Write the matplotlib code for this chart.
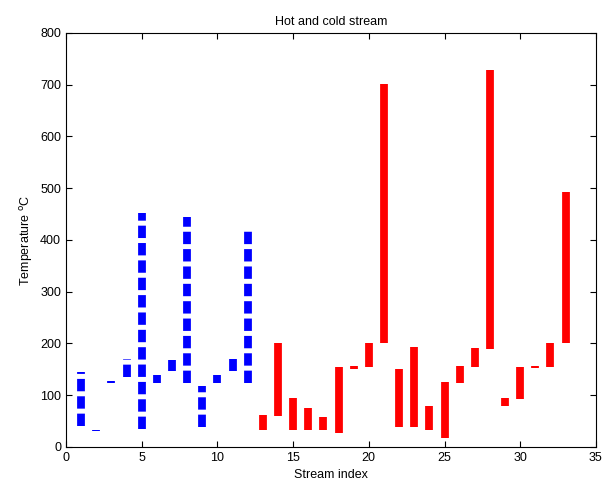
"""Hot and cold stream temperature ranges."""

import matplotlib

matplotlib.use("Agg")
from matplotlib import pyplot as plt

# cold streams 1..12 (supply/target range, degC)
cold_index = [1, 2, 3, 4, 5, 6, 7, 8, 9, 10, 11, 12]
cold_low = [40, 30, 123, 135, 35, 123, 147, 123, 38, 123, 147, 123]
cold_high = [145, 32, 128, 170, 453, 140, 168, 444, 117, 140, 170, 424]

# hot streams 13..33
hot_index = list(range(13, 34))
hot_low = [32, 60, 32, 32, 32, 27, 151, 154, 200, 38, 38, 32, 17,
           123, 154, 189, 80, 93, 152, 154, 200]
hot_high = [62, 200, 95, 76, 57, 154, 156, 200, 702, 151, 193, 79, 126,
            156, 191, 728, 95, 154, 156, 200, 492]

plt.rcParams["font.family"] = ["Liberation Sans", "DejaVu Sans"]
plt.rcParams["font.size"] = 9
plt.rcParams["lines.scale_dashes"] = False

fig = plt.figure(figsize=(6.05, 4.92), dpi=100)
ax = fig.add_axes([0.109, 0.0915, 0.876, 0.8415])

for x, lo, hi in zip(cold_index, cold_low, cold_high):
    ax.plot([x, x], [lo, hi], color="#0000ff", linewidth=5.6,
            linestyle=(0, (8.9, 3.6)), solid_capstyle="butt",
            dash_capstyle="butt")

for x, lo, hi in zip(hot_index, hot_low, hot_high):
    ax.plot([x, x], [lo, hi], color="#ff0000", linewidth=5.6,
            solid_capstyle="butt")

ax.set_xlim(0, 35)
ax.set_ylim(0, 800)
ax.set_xticks(range(0, 36, 5))
ax.set_yticks(range(0, 801, 100))
ax.tick_params(direction="in", top=True, right=True, length=4, width=0.8)
for spine in ax.spines.values():
    spine.set_linewidth(0.8)

ax.set_title("Hot and cold stream", fontsize=9)
ax.set_xlabel("Stream index")
ax.set_ylabel(r"Temperature $^{\mathrm{o}}$C")

fig.savefig("out.png", dpi=100)
plt.close(fig)
